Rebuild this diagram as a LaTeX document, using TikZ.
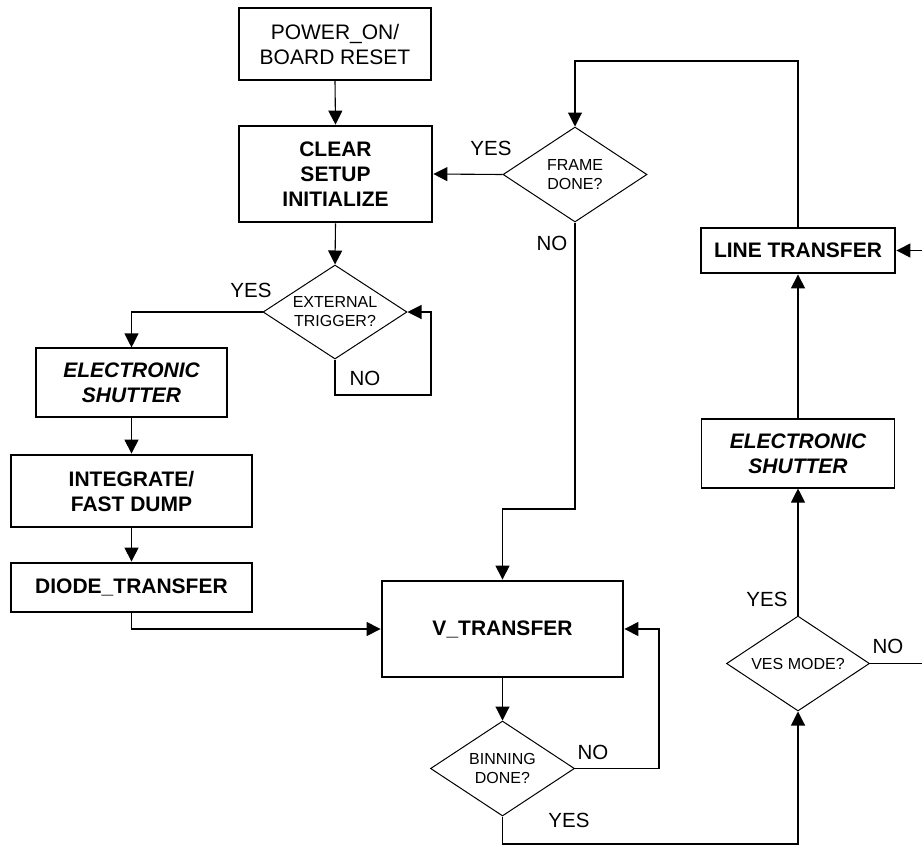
\documentclass[tikz,border=0pt]{standalone}
\usepackage{fontspec}
\setmainfont{Liberation Sans}
\usetikzlibrary{shapes.geometric,arrows.meta}
\begin{document}
\begin{tikzpicture}[x=1pt,y=-1pt,
  box/.style={draw, line width=1.1pt, align=center, inner sep=0pt, font=\fontsize{21}{25}\selectfont},
  thickbox/.style={draw, line width=2.8pt, align=center, inner sep=0pt, font=\fontsize{21}{25}\selectfont\bfseries},
  esbox/.style={box, font=\fontsize{21}{25}\selectfont\bfseries\itshape},
  dec/.style={draw, diamond, shape aspect=1.53, line width=1pt, align=center, inner sep=0pt, font=\fontsize{16}{19}\selectfont},
  arr/.style={line width=1.1pt, -{Triangle[length=14pt,width=14pt]}},
  ln/.style={line width=1.1pt},
  lbl/.style={font=\fontsize{20.5}{24}\selectfont, inner sep=0pt}]
\useasboundingbox (0,0) rectangle (922,846);
\clip (0,0) rectangle (922,846);
\fill[white] (0,0) rectangle (922,846);

% nodes
\node[box, minimum width=192pt, minimum height=72pt] (pwr) at (335,44) {POWER\_ON/\\BOARD RESET};
\node[thickbox, minimum width=193pt, minimum height=96pt] (clr) at (335.5,174) {CLEAR\\SETUP\\INITIALIZE};
\node[dec, minimum width=144pt, minimum height=94pt] (ext) at (335,312) {EXTERNAL\\TRIGGER?};
\node[esbox, minimum width=191pt, minimum height=69pt] (es1) at (131.5,382.5) {ELECTRONIC\\SHUTTER};
\node[thickbox, minimum width=241pt, minimum height=72pt] (integ) at (131.5,491) {INTEGRATE/\\FAST DUMP};
\node[thickbox, minimum width=241pt, minimum height=49pt] (diode) at (131.5,587.5) {DIODE\_TRANSFER};
\node[thickbox, minimum width=241pt, minimum height=96pt] (vt) at (502.5,629) {V\_TRANSFER};
\node[dec, minimum width=144pt, minimum height=95pt] (bin) at (502.5,768.5) {BINNING\\DONE?};
\node[dec, minimum width=144pt, minimum height=95pt] (frame) at (575,174.5) {FRAME\\DONE?};
\node[thickbox, minimum width=194pt, minimum height=45pt] (lt) at (798,250.5) {LINE TRANSFER};
\node[esbox, minimum width=193pt, minimum height=69pt] (es2) at (798,453.5) {ELECTRONIC\\SHUTTER};
\node[dec, minimum width=143pt, minimum height=95pt] (ves) at (798,663.5) {VES MODE?};

% helper coordinates
\coordinate (c1) at (431,395);
\coordinate (c2) at (659,768.5);
\coordinate (c3) at (798,844);
\coordinate (c4) at (575,61);
\coordinate (c5) at (575,509);
\coordinate (c6) at (940,663.5);
\coordinate (c7) at (940,250.5);

% connectors
\draw[arr] (pwr.south) -- (clr.north);
\draw[arr] (clr.south) -- (ext.north);
\draw[arr] (ext.west) -| (es1.north);
\draw[arr] (ext.south) |- (c1) |- (ext.east);
\draw[arr] (es1.south) -- (integ.north);
\draw[arr] (integ.south) -- (diode.north);
\draw[arr] (diode.south) |- (vt.west);
\draw[arr] (vt.south) -- (bin.north);
\draw[arr] (bin.east) -- (c2) |- (vt.east);
\draw[arr] (bin.south) |- (c3) -- (ves.south);
\draw[arr] (ves.north) -- (es2.south);
\draw[arr] (es2.north) -- (lt.south);
\draw[arr] (lt.north) |- (c4) -- (frame.north);
\draw[arr] (frame.west) -- (clr.east);
\draw[arr] (frame.south) -- (c5) -| (vt.north);
\draw[arr] (ves.east) -- (c6) -- (c7) -- (lt.east);

% labels
\node[lbl] (l1) at (251,290) {YES};
\node[lbl] (l2) at (365,378) {NO};
\node[lbl] (l3) at (491,148) {YES};
\node[lbl] (l4) at (552,243) {NO};
\node[lbl] (l5) at (593,752) {NO};
\node[lbl] (l6) at (569,820) {YES};
\node[lbl] (l7) at (767,599) {YES};
\node[lbl] (l8) at (888,646) {NO};
\end{tikzpicture}
\end{document}
